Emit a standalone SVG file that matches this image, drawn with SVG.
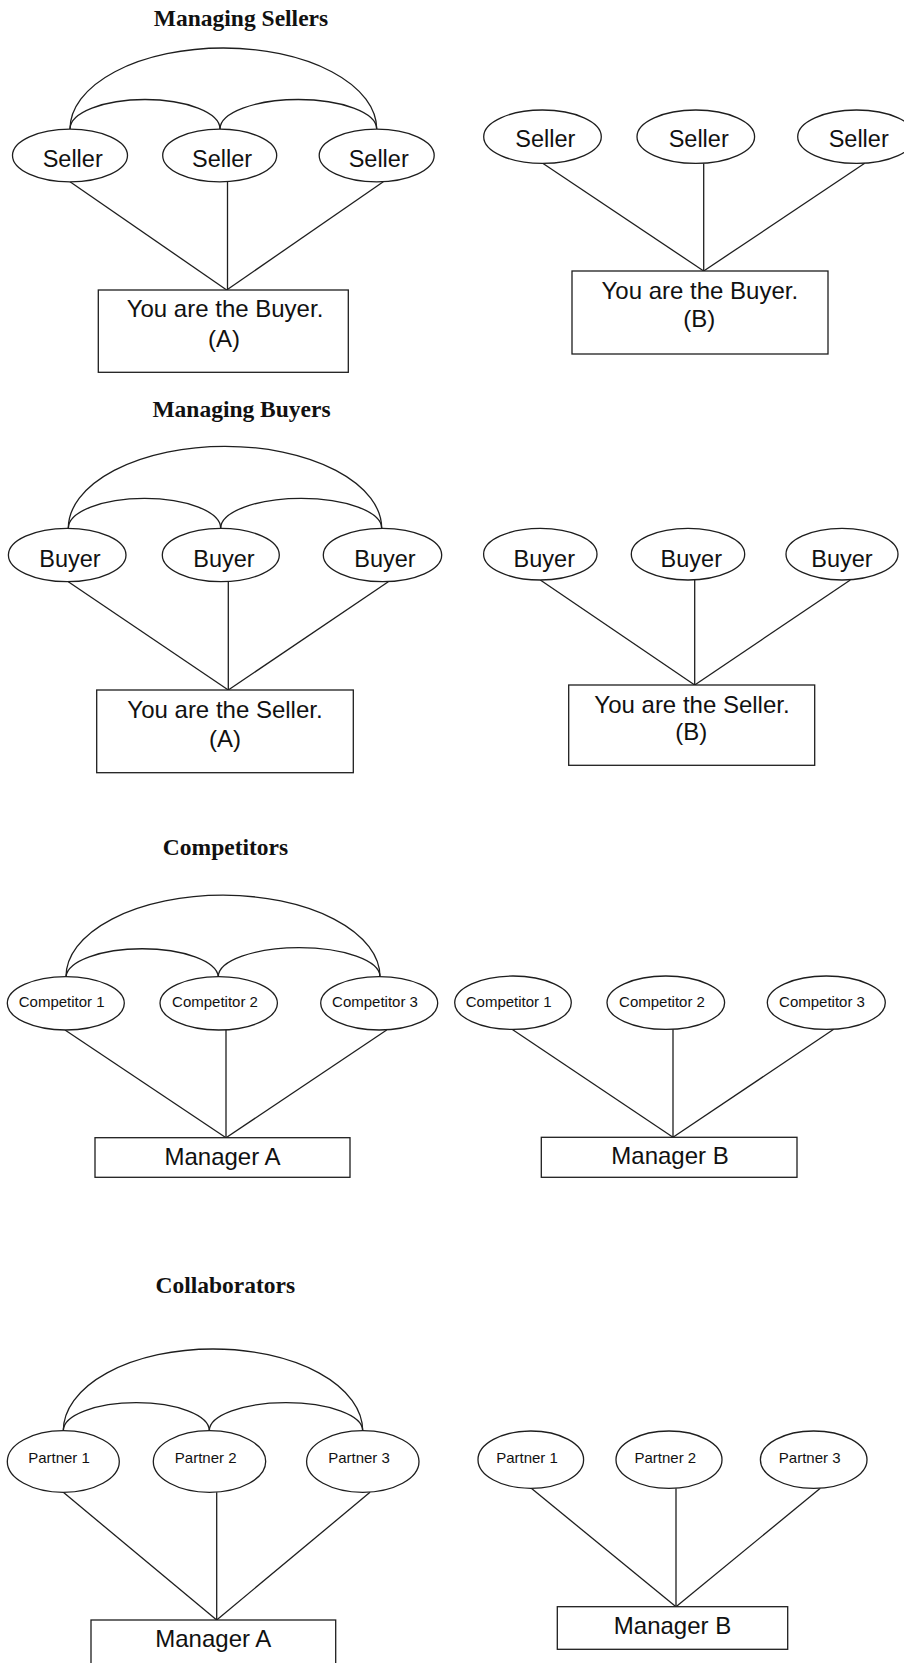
<svg xmlns="http://www.w3.org/2000/svg" width="904" height="1663" viewBox="0 0 904 1663">
<style>
.bg{fill:#ffffff}
.shape{fill:#ffffff;stroke:#1e1e1e;stroke-width:1.3}
.conn{fill:none;stroke:#1e1e1e;stroke-width:1.3}
.title{font-family:"Liberation Serif","Times New Roman",serif;font-weight:bold;font-size:23.5px;fill:#111;text-anchor:middle}
.big{font-family:"Liberation Sans",Arial,sans-serif;font-size:23.5px;fill:#111;text-anchor:middle}
.box{font-family:"Liberation Sans",Arial,sans-serif;font-size:24px;fill:#111;text-anchor:middle}
.small{font-family:"Liberation Sans",Arial,sans-serif;font-size:15px;fill:#111;text-anchor:middle}
</style>
<rect class="bg" x="0" y="0" width="904" height="1663"/>

<g id="titles">
<text class="title" x="241" y="26">Managing Sellers</text>
<text class="title" x="241.5" y="416.5">Managing Buyers</text>
<text class="title" x="225.5" y="855">Competitors</text>
<text class="title" x="225.3" y="1293">Collaborators</text>
</g>

<g id="connectors">
<!-- Section 1 left -->
<path class="conn" d="M70,129 A153.3,81 0 0 1 376.7,129"/>
<path class="conn" d="M70,129 A75,29.5 0 0 1 220,129"/>
<path class="conn" d="M220,129 A78.3,29.5 0 0 1 376.7,129"/>
<line class="conn" x1="70" y1="181.7" x2="226.7" y2="290"/>
<line class="conn" x1="227.5" y1="182" x2="227.5" y2="290"/>
<line class="conn" x1="383.3" y1="181.7" x2="226.7" y2="290"/>
<!-- Section 1 right -->
<line class="conn" x1="542.7" y1="163.3" x2="703.7" y2="271"/>
<line class="conn" x1="703.7" y1="163.5" x2="703.7" y2="271"/>
<line class="conn" x1="864.7" y1="163.3" x2="703.7" y2="271"/>
<!-- Section 2 left -->
<path class="conn" d="M68.3,528.3 A156.7,82 0 0 1 381.7,528.3"/>
<path class="conn" d="M68.3,528.3 A76.2,30 0 0 1 220.7,528.3"/>
<path class="conn" d="M220.7,528.3 A80.5,30 0 0 1 381.7,528.3"/>
<line class="conn" x1="68.3" y1="581.7" x2="228.3" y2="690"/>
<line class="conn" x1="228.3" y1="581.7" x2="228.3" y2="690"/>
<line class="conn" x1="388.3" y1="581.7" x2="228.3" y2="690"/>
<!-- Section 2 right -->
<line class="conn" x1="540.3" y1="580" x2="694.7" y2="685"/>
<line class="conn" x1="694.7" y1="580" x2="694.7" y2="685"/>
<line class="conn" x1="850.3" y1="580" x2="694.7" y2="685"/>
<!-- Section 3 left -->
<path class="conn" d="M66,976.7 A157,81.5 0 0 1 380,976.7"/>
<path class="conn" d="M66,976.7 A76.2,29 0 0 1 218.3,976.7"/>
<path class="conn" d="M218.3,976.7 A80.8,29 0 0 1 380,976.7"/>
<line class="conn" x1="65" y1="1030" x2="226" y2="1137.7"/>
<line class="conn" x1="226" y1="1030" x2="226" y2="1137.7"/>
<line class="conn" x1="386.7" y1="1030" x2="226" y2="1137.7"/>
<!-- Section 3 right -->
<line class="conn" x1="512" y1="1029.3" x2="673" y2="1137.3"/>
<line class="conn" x1="673" y1="1029.3" x2="673" y2="1137.3"/>
<line class="conn" x1="833.7" y1="1029.3" x2="673" y2="1137.3"/>
<!-- Section 4 left -->
<path class="conn" d="M63.3,1430.7 A149.7,81.7 0 0 1 362.7,1430.7"/>
<path class="conn" d="M63.3,1430.7 A73,28 0 0 1 209.3,1430.7"/>
<path class="conn" d="M209.3,1430.7 A76.7,28 0 0 1 362.7,1430.7"/>
<line class="conn" x1="63.3" y1="1492.3" x2="216.7" y2="1620"/>
<line class="conn" x1="216.7" y1="1492.3" x2="216.7" y2="1620"/>
<line class="conn" x1="370" y1="1492.3" x2="216.7" y2="1620"/>
<!-- Section 4 right -->
<line class="conn" x1="531.3" y1="1488.3" x2="676" y2="1606.7"/>
<line class="conn" x1="676" y1="1488.3" x2="676" y2="1606.7"/>
<line class="conn" x1="820.3" y1="1488.3" x2="676" y2="1606.7"/>
</g>

<!-- Section 1 left nodes -->
<g id="s1a-seller1"><ellipse class="shape" cx="70" cy="155.5" rx="57.5" ry="26.3"/><text class="big" x="72.7" y="166.5">Seller</text></g>
<g id="s1a-seller2"><ellipse class="shape" cx="219.7" cy="155.5" rx="57" ry="26.3"/><text class="big" x="222" y="166.5">Seller</text></g>
<g id="s1a-seller3"><ellipse class="shape" cx="376.7" cy="155.5" rx="57.5" ry="26.3"/><text class="big" x="378.7" y="166.5">Seller</text></g>
<g id="s1a-buyer"><rect class="shape" x="98.3" y="290" width="250" height="82.3"/><text class="box" x="225" y="316.7">You are the Buyer.</text><text class="box" x="224" y="346.7">(A)</text></g>

<!-- Section 1 right nodes -->
<g id="s1b-seller1"><ellipse class="shape" cx="542.5" cy="136.7" rx="58.8" ry="26.7"/><text class="big" x="545.3" y="147.3">Seller</text></g>
<g id="s1b-seller2"><ellipse class="shape" cx="695.8" cy="136.7" rx="58.8" ry="26.7"/><text class="big" x="698.7" y="147.3">Seller</text></g>
<g id="s1b-seller3"><ellipse class="shape" cx="856.5" cy="136.7" rx="58.8" ry="26.7"/><text class="big" x="858.7" y="147.3">Seller</text></g>
<g id="s1b-buyer"><rect class="shape" x="572" y="271" width="256" height="83"/><text class="box" x="699.8" y="299.3">You are the Buyer.</text><text class="box" x="699.3" y="326.7">(B)</text></g>

<!-- Section 2 left nodes -->
<g id="s2a-buyer1"><ellipse class="shape" cx="67.2" cy="555" rx="58.8" ry="26.7"/><text class="big" x="70" y="566.7">Buyer</text></g>
<g id="s2a-buyer2"><ellipse class="shape" cx="220.8" cy="555" rx="58.5" ry="26.7"/><text class="big" x="224" y="566.7">Buyer</text></g>
<g id="s2a-buyer3"><ellipse class="shape" cx="382.5" cy="555" rx="59.2" ry="26.7"/><text class="big" x="385" y="566.7">Buyer</text></g>
<g id="s2a-seller"><rect class="shape" x="96.7" y="690" width="256.6" height="82.7"/><text class="box" x="225" y="718.3">You are the Seller.</text><text class="box" x="225" y="747.3">(A)</text></g>

<!-- Section 2 right nodes -->
<g id="s2b-buyer1"><ellipse class="shape" cx="540.3" cy="554.2" rx="56.7" ry="25.8"/><text class="big" x="544.3" y="566.7">Buyer</text></g>
<g id="s2b-buyer2"><ellipse class="shape" cx="688" cy="554.2" rx="56.7" ry="25.8"/><text class="big" x="691.3" y="566.7">Buyer</text></g>
<g id="s2b-buyer3"><ellipse class="shape" cx="842" cy="554.2" rx="56" ry="25.8"/><text class="big" x="842" y="566.7">Buyer</text></g>
<g id="s2b-seller"><rect class="shape" x="568.7" y="685" width="246" height="80.3"/><text class="box" x="692" y="712.7">You are the Seller.</text><text class="box" x="691.3" y="740">(B)</text></g>

<!-- Section 3 left nodes -->
<g id="s3a-comp1"><ellipse class="shape" cx="65.8" cy="1003.3" rx="58.5" ry="26.7"/><text class="small" x="61.7" y="1007.3">Competitor 1</text></g>
<g id="s3a-comp2"><ellipse class="shape" cx="218.7" cy="1003.3" rx="58.7" ry="26.7"/><text class="small" x="215" y="1007.3">Competitor 2</text></g>
<g id="s3a-comp3"><ellipse class="shape" cx="379.2" cy="1003.3" rx="58.5" ry="26.7"/><text class="small" x="375" y="1007.3">Competitor 3</text></g>
<g id="s3a-manager"><rect class="shape" x="95" y="1137.7" width="255" height="39.6"/><text class="box" x="222.5" y="1165">Manager A</text></g>

<!-- Section 3 right nodes -->
<g id="s3b-comp1"><ellipse class="shape" cx="513" cy="1002.7" rx="58.3" ry="26.7"/><text class="small" x="508.7" y="1006.7">Competitor 1</text></g>
<g id="s3b-comp2"><ellipse class="shape" cx="665.8" cy="1002.7" rx="58.8" ry="26.7"/><text class="small" x="662" y="1006.7">Competitor 2</text></g>
<g id="s3b-comp3"><ellipse class="shape" cx="826.3" cy="1002.7" rx="59" ry="26.7"/><text class="small" x="822" y="1006.7">Competitor 3</text></g>
<g id="s3b-manager"><rect class="shape" x="541.3" y="1137.3" width="255.7" height="40"/><text class="box" x="670" y="1164">Manager B</text></g>

<!-- Section 4 left nodes -->
<g id="s4a-partner1"><ellipse class="shape" cx="63.3" cy="1461.5" rx="56" ry="30.8"/><text class="small" x="59" y="1463.3">Partner 1</text></g>
<g id="s4a-partner2"><ellipse class="shape" cx="209.5" cy="1461.5" rx="56.2" ry="30.8"/><text class="small" x="205.7" y="1463.3">Partner 2</text></g>
<g id="s4a-partner3"><ellipse class="shape" cx="362.8" cy="1461.5" rx="56.2" ry="30.8"/><text class="small" x="359" y="1463.3">Partner 3</text></g>
<g id="s4a-manager"><rect class="shape" x="91" y="1620" width="244.7" height="60"/><text class="box" x="213.3" y="1647.3">Manager A</text></g>

<!-- Section 4 right nodes -->
<g id="s4b-partner1"><ellipse class="shape" cx="530.8" cy="1459.7" rx="52.8" ry="28.7"/><text class="small" x="527" y="1462.7">Partner 1</text></g>
<g id="s4b-partner2"><ellipse class="shape" cx="669" cy="1459.7" rx="53" ry="28.7"/><text class="small" x="665.3" y="1462.7">Partner 2</text></g>
<g id="s4b-partner3"><ellipse class="shape" cx="813.7" cy="1459.7" rx="53.3" ry="28.7"/><text class="small" x="809.7" y="1462.7">Partner 3</text></g>
<g id="s4b-manager"><rect class="shape" x="557.3" y="1606.7" width="230.4" height="42.6"/><text class="box" x="672.5" y="1634">Manager B</text></g>
</svg>
